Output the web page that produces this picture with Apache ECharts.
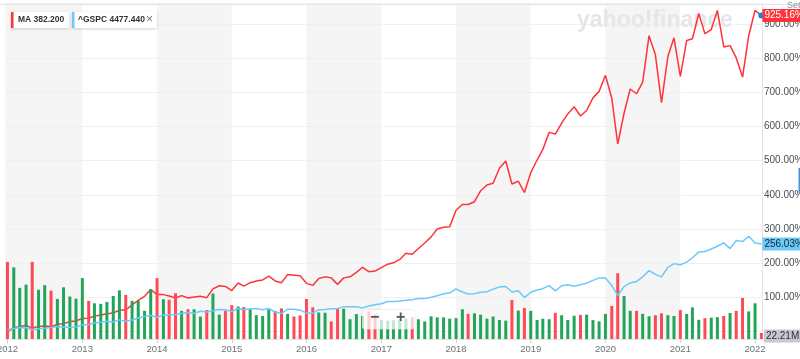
<!DOCTYPE html>
<html><head><meta charset="utf-8">
<script src="https://cdn.jsdelivr.net/npm/echarts@6/dist/echarts.min.js"></script>
<style>html,body{margin:0;padding:0;background:#fff}#c{width:800px;height:359px}</style>
</head><body><div id="c"></div>
<script>
// ---- data (monthly, Jan 2012 .. Feb 2022), % change since Dec 2011 ----
const startYear = 2012;
const maPct = [0, 11, 14, 18, 10, 15, 16, 14, 21, 23, 29, 31,
 38, 39, 45, 48, 52, 54, 63, 63, 78, 91, 103, 123,
 108, 108, 104, 98, 105, 98, 101, 103, 99, 125, 134, 132,
 120, 142, 133, 143, 148, 151, 162, 148, 143, 167, 165, 163,
 141, 135, 155, 160, 157, 138, 157, 160, 173, 188, 175, 177,
 187, 197, 201, 211, 229, 226, 243, 259, 277, 300, 305, 307,
 355, 372, 372, 380, 412, 429, 434, 478, 499, 432, 440, 407,
 465, 502, 533, 583, 578, 610, 637, 658, 631, 647, 684, 703,
 750, 683, 549, 639, 710, 696, 730, 866, 810, 670, 805, 860,
 747, 852, 857, 931, 872, 884, 940, 833, 837, 801, 745, 866,
 940, 925.16];
const spxPct = [4.4, 8.6, 12.0, 11.2, 4.2, 8.3, 9.7, 11.8, 14.6, 12.3, 12.6, 13.4,
 19.1, 20.4, 24.8, 27.0, 29.7, 27.7, 34.0, 29.9, 33.7, 39.7, 43.6, 47.0,
 41.7, 47.9, 48.9, 49.8, 53.0, 55.9, 53.5, 59.3, 56.8, 60.5, 64.4, 63.7,
 58.6, 67.3, 64.4, 65.8, 67.6, 64.0, 67.3, 56.8, 52.7, 65.3, 65.4, 62.5,
 54.3, 53.6, 63.8, 64.2, 66.7, 66.9, 72.8, 72.6, 72.4, 69.1, 74.8, 78.0,
 81.2, 87.9, 87.9, 89.6, 91.8, 92.7, 96.4, 96.5, 100.3, 104.8, 110.5, 112.6,
 124.5, 115.8, 110.0, 110.6, 115.1, 116.2, 123.9, 130.7, 131.7, 115.6, 119.5, 99.3,
 115.0, 121.4, 125.4, 134.2, 118.8, 133.9, 137.0, 132.7, 136.7, 141.5, 149.8, 156.9,
 156.5, 134.9, 105.5, 131.6, 142.1, 146.5, 160.1, 178.3, 167.4, 160.0, 188.0, 198.7,
 195.3, 203.0, 215.9, 232.5, 234.3, 241.7, 249.5, 259.6, 242.5, 266.2, 263.2, 279.0,
 259.1, 256.03];
// MA monthly volume, millions
const volume = [285, 265, 189, 201, 285, 182, 199, 179, 148, 191, 157, 149,
 225, 141, 132, 130, 137, 159, 180, 163, 141, 141, 104, 184,
 225, 147, 145, 169, 104, 110, 110, 83, 107, 168, 90, 104,
 125, 120, 118, 112, 88, 85, 110, 104, 113, 93, 83, 87,
 148, 117, 98, 97, 65, 114, 112, 73, 92, 85, 102, 90,
 70, 68, 70, 72, 76, 80, 73, 65, 84, 80, 80, 75,
 77, 110, 93, 95, 90, 75, 83, 70, 68, 144, 105, 115,
 104, 70, 75, 73, 97, 88, 70, 86, 89, 90, 70, 65,
 93, 122, 243, 159, 104, 104, 93, 84, 88, 95, 88, 85,
 107, 93, 117, 71, 77, 79, 81, 85, 96, 104, 152, 102,
 132, 22.21];
// R = down month, G = up month
const volDir = 'RGGGRGGRGGGG' + 'GRGGGGGRGGGG' + 'RGRRGRGGRGGR' + 'RGRGGGGRRGRR' +
 'RRGGRRGGGGRR' + 'GGGGGRGGGGGG' + 'GGRGGGGGGRGR' + 'GGGGRGGGRGGG' +
 'GRRGGRGGRRGG' + 'RGGGRGGRGRRG' + 'GR';
const shadedYears = [2012, 2014, 2016, 2018, 2020];
const legendMA = 'MA 382.200';
const legendSPX = '^GSPC 4477.440';

// ---- chart ----
const months = maPct.map((_, i) => new Date(startYear + Math.floor(i / 12), i % 12, 1).getTime());
const X_MIN = new Date(2011, 11, 20).getTime(), X_MAX = new Date(2022, 1, 4).getTime();
const FONT = '"Liberation Sans", Arial, Helvetica, sans-serif';
const RED = '#ff333a', BLUE = '#6cc9fb', GREEN = '#22a45a', BAR_RED = '#ff4a55';

const stripes = shadedYears.map(y => [
  { xAxis: (y === startYear ? X_MIN : new Date(y, 0, 1).getTime()) },
  { xAxis: new Date(y + 1, 0, 1).getTime() }
]);

const chart = echarts.init(document.getElementById('c'), null, { renderer: 'canvas', width: 800, height: 359 });
const last = maPct.length - 1;

chart.setOption({
  animation: false,
  backgroundColor: '#fff',
  textStyle: { fontFamily: FONT },
  grid: [
    { left: 5, right: 38, top: 3.6, bottom: 27.5, outerBoundsMode: 'none', containLabel: false },
    { left: 5, right: 38, top: 3.6, bottom: 20, outerBoundsMode: 'none', containLabel: false }
  ],
  xAxis: [
    { type: 'time', gridIndex: 0, min: X_MIN, max: X_MAX, show: false },
    { type: 'time', gridIndex: 1, min: X_MIN, max: X_MAX,
      minInterval: 365 * 864e5, maxInterval: 366 * 864e5,
      axisLine: { show: true, lineStyle: { color: '#e4e4e4' } },
      axisTick: { show: true, length: 4, lineStyle: { color: '#d0d0d0' } },
      splitLine: { show: false },
      axisLabel: { color: '#6b7279', fontSize: 9.5, fontFamily: FONT, margin: 5,
        showMinLabel: false, showMaxLabel: false, hideOverlap: false,
        formatter: v => String(new Date(v).getFullYear()) } },
    { type: 'value', gridIndex: 1, min: X_MIN, max: X_MAX, show: false }
  ],
  yAxis: [
    { type: 'value', gridIndex: 0, position: 'right', min: 0, max: 960, interval: 100,
      axisLine: { show: true, lineStyle: { color: '#e4e4e4' } },
      axisTick: { show: false },
      splitLine: { show: true, lineStyle: { color: '#f0f0f0' } },
      axisLabel: { color: '#464e56', fontSize: 10, fontFamily: FONT, margin: 2,
        showMinLabel: false, showMaxLabel: false,
        formatter: v => v.toFixed(2) + '%' } },
    { type: 'value', gridIndex: 1, min: 0, max: 1240, show: false }
  ],
  series: [
    { type: 'line', xAxisIndex: 1, yAxisIndex: 1, data: [], z: -2, silent: true,
      markArea: { silent: true, z: -2, itemStyle: { color: '#f5f5f5' }, data: stripes } },
    { type: 'line', name: 'MA', xAxisIndex: 0, yAxisIndex: 0, z: 2, clip: false,
      symbol: 'none', showSymbol: true,
      lineStyle: { color: RED, width: 1.5 }, itemStyle: { color: RED },
      data: maPct.map((v, i) => i === last
        ? { value: [months[i], v], symbol: 'circle', symbolSize: 6, itemStyle: { color: '#1a7de8' } }
        : [months[i], v]),
      endLabel: { show: true, distance: 1, formatter: p => p.value[1].toFixed(2) + '%',
        color: '#fff', backgroundColor: RED, fontSize: 10, fontFamily: FONT,
        padding: [1, 2, 1, 2], lineHeight: 11 } },
    { type: 'bar', name: 'Volume', xAxisIndex: 2, yAxisIndex: 1, z: 3, barWidth: 3,
      data: volume.map((v, i) => {
        const item = { value: [months[i], v], itemStyle: { color: volDir[i] === 'R' ? BAR_RED : GREEN } };
        if (i === last) item.label = { show: true, position: 'right', distance: 1,
          formatter: p => p.value[1].toFixed(2) + 'M', color: '#2b2f33',
          backgroundColor: '#c8c9ce', fontSize: 10, fontFamily: FONT,
          padding: [1, 2, 1, 2], lineHeight: 11 };
        return item;
      }) },
    { type: 'line', name: '^GSPC', xAxisIndex: 0, yAxisIndex: 0, z: 4, clip: false,
      symbol: 'none', showSymbol: false,
      lineStyle: { color: BLUE, width: 1.5 }, itemStyle: { color: BLUE },
      data: spxPct.map((v, i) => [months[i], v]),
      endLabel: { show: true, distance: 1, formatter: p => p.value[1].toFixed(2) + '%',
        color: '#1d2228', backgroundColor: BLUE, fontSize: 10, fontFamily: FONT,
        padding: [1, 2, 1, 2], lineHeight: 11 } }
  ],
  graphic: [
    { type: 'line', z: 50, shape: { x1: 0, y1: 4.5, x2: 800, y2: 4.5 }, style: { stroke: '#e2e6ea', lineWidth: 1 } },
    { type: 'text', z: 1, left: 577, top: 9,
      style: { text: 'yahoo!finance', font: 'bold 23px ' + FONT, fill: '#e6e6e8' } },
    { type: 'text', z: 50, left: 787, top: 1, style: { text: 'Set', font: '9px ' + FONT, fill: '#8a8f94' } },
    // legend chips
    { type: 'rect', z: 60, shape: { x: 11, y: 12, width: 58, height: 16, r: 1 },
      style: { fill: '#fff', shadowBlur: 3, shadowColor: 'rgba(0,0,0,0.18)', shadowOffsetY: 1 } },
    { type: 'rect', z: 61, shape: { x: 11, y: 12, width: 2.5, height: 16 }, style: { fill: RED } },
    { type: 'text', z: 61, left: 18, top: 15.5, style: { text: legendMA, font: 'bold 8.5px ' + FONT, fill: '#2e3338' } },
    { type: 'rect', z: 60, shape: { x: 72, y: 12, width: 85, height: 16, r: 1 },
      style: { fill: '#fff', shadowBlur: 3, shadowColor: 'rgba(0,0,0,0.18)', shadowOffsetY: 1 } },
    { type: 'rect', z: 61, shape: { x: 72, y: 12, width: 2.5, height: 16 }, style: { fill: BLUE } },
    { type: 'text', z: 61, left: 78, top: 15.5, style: { text: legendSPX, font: 'bold 8.5px ' + FONT, fill: '#2e3338' } },
    { type: 'text', z: 61, left: 146, top: 13.5, style: { text: '×', font: '12px ' + FONT, fill: '#777' } },
    // zoom control
    { type: 'rect', z: 60, shape: { x: 362, y: 309.5, width: 53, height: 20, r: 3 },
      style: { fill: 'rgba(255,255,255,0.72)', stroke: 'rgba(0,0,0,0.06)' } },
    { type: 'text', z: 61, left: 370, top: 310, style: { text: '−', font: 'bold 16px ' + FONT, fill: '#555' } },
    { type: 'text', z: 61, left: 396, top: 310, style: { text: '+', font: 'bold 16px ' + FONT, fill: '#555' } },
    { type: 'rect', z: 60, shape: { x: 798.5, y: 168, width: 2, height: 25 }, style: { fill: '#4a8fe7' } }
  ]
});
</script></body></html>
